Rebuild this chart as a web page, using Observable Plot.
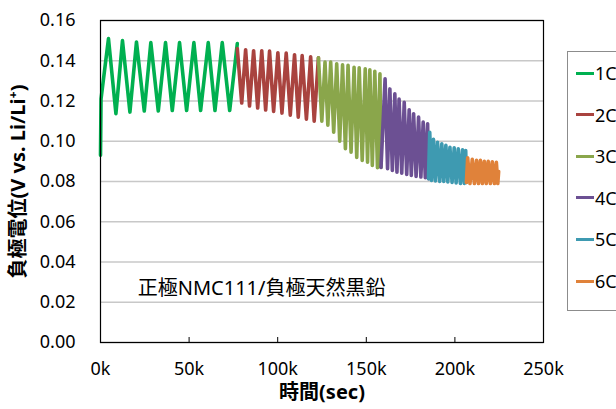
<!DOCTYPE html>
<html><head><meta charset="utf-8">
<script src="https://cdn.jsdelivr.net/npm/d3@7"></script>
<script src="https://cdn.jsdelivr.net/npm/@observablehq/plot@0.6"></script>
<style>
body{margin:0;background:#fff;overflow:hidden;}
#wrap{position:relative;width:616px;height:409px;font-family:"Noto Sans","Noto Sans CJK JP",sans-serif;}
#legend{position:absolute;left:567px;top:51px;width:70px;height:258px;border:1px solid #8c8c8c;background:#fff;}
.item{position:absolute;left:0;height:22px;display:flex;align-items:center;}
.sw{width:18px;height:3px;margin-left:8px;}
.lab{font-size:18px;color:#000;margin-left:1px;line-height:22px;}
</style></head><body><div id="wrap"></div>
<script>
const rates = ["1C","2C","3C","4C","5C","6C"];
const rateColors = ["#00b050","#a9433f","#8aa64b","#6c5093","#3e9ab1","#e0823a"];

const t1C = [0, 300, 4500, 8700, 12400, 16600, 20300, 24700, 28400, 32600, 36700, 40500, 44600, 48600, 52700, 56500, 60800, 64600, 68700, 72900, 77200];
const v1C = [0.093, 0.121, 0.151, 0.1137, 0.150, 0.1145, 0.1493, 0.115, 0.149, 0.115, 0.149, 0.1153, 0.149, 0.1153, 0.149, 0.1153, 0.149, 0.1153, 0.149, 0.1153, 0.1485];

const t2C = [77200, 79700, 81900, 84100, 86400, 88700, 91000, 93200, 95400, 97700, 100100, 102400, 104800, 107100, 109500, 111600, 113800, 116200, 118600, 120600, 123000];
const v2C = [0.146, 0.119, 0.1455, 0.1175, 0.145, 0.1165, 0.145, 0.1155, 0.1448, 0.1148, 0.144, 0.114, 0.1438, 0.113, 0.143, 0.112, 0.1426, 0.111, 0.142, 0.110, 0.1415];

const t3C = [123000, 124900, 126700, 128300, 129900, 131600, 133300, 135000, 136600, 138200, 139700, 141400, 143100, 144600, 146000, 147700, 149400, 150700, 152000, 153400, 154800, 156300, 157700, 158300];
const v3C = [0.1415, 0.110, 0.1393, 0.108, 0.1393, 0.1045, 0.1385, 0.100, 0.138, 0.0963, 0.1377, 0.0946, 0.1368, 0.092, 0.1365, 0.0905, 0.136, 0.0896, 0.1355, 0.088, 0.1348, 0.0868, 0.1335, 0.087];

const t4C = [158300, 160600, 162000, 163300, 164700, 166100, 167300, 168500, 170000, 171400, 172800, 174200, 175400, 176700, 178100, 179500, 180800, 182100, 183300, 184600, 185100];
const v4C = [0.087, 0.131, 0.0863, 0.126, 0.0855, 0.1236, 0.0846, 0.121, 0.0841, 0.1194, 0.0835, 0.1156, 0.083, 0.1137, 0.0825, 0.112, 0.0822, 0.1095, 0.0819, 0.1087, 0.0814];

const t5C = [185100, 185800, 186800, 187900, 189000, 190200, 191400, 192600, 193700, 194900, 196000, 197200, 198400, 199600, 200700, 201900, 203100, 204300, 205300, 206100, 206500];
const v5C = [0.0814, 0.1045, 0.0805, 0.101, 0.0803, 0.0995, 0.080, 0.0987, 0.080, 0.098, 0.0798, 0.097, 0.0795, 0.0967, 0.0793, 0.0962, 0.079, 0.0957, 0.079, 0.0954, 0.0795];

const t6C = [206500, 207200, 208500, 209800, 211000, 212200, 213300, 214400, 215500, 216600, 217700, 218800, 220000, 221100, 222300, 223400, 224200, 224700];
const v6C = [0.0795, 0.0918, 0.079, 0.091, 0.079, 0.0905, 0.079, 0.0905, 0.079, 0.090, 0.079, 0.090, 0.079, 0.0898, 0.079, 0.0895, 0.079, 0.085];

const xTicks = [0, 50000, 100000, 150000, 200000, 250000];
const yTicks = [0, 0.02, 0.04, 0.06, 0.08, 0.10, 0.12, 0.14, 0.16];
const yTitle = "負極電位(V vs. Li/Li⁺)";
const xTitle = "時間(sec)";
const annotation = "正極NMC111/負極天然黒鉛";
const annX = 21000, annY = 0.027;

const seriesT = [t1C, t2C, t3C, t4C, t5C, t6C];
const seriesV = [v1C, v2C, v3C, v4C, v5C, v6C];
const rows = [];
seriesT.forEach((ts, i) => ts.forEach((t, j) => rows.push({rate: rates[i], t, v: seriesV[i][j]})));

const font = '"Noto Sans","Noto Sans CJK JP",sans-serif';
const chart = Plot.plot({
  width: 616, height: 409,
  marginLeft: 100, marginRight: 73, marginTop: 20, marginBottom: 67,
  style: {fontFamily: font, fontSize: "18px", color: "#000", background: "#fff", overflow: "visible"},
  x: {domain: [0, 250000]},
  y: {domain: [0, 0.16]},
  color: {domain: rates, range: rateColors},
  marks: [
    Plot.gridY(yTicks, {stroke: "#c8c8c8", strokeOpacity: 1, strokeWidth: 1.3}),
    Plot.line(rows, {x: "t", y: "v", z: "rate", stroke: "rate", strokeWidth: 3.6, strokeLinejoin: "round", strokeLinecap: "round"}),
    Plot.ruleX(xTicks.slice(1, -1), {stroke: "#000", insetTop: 317}),
    Plot.frame({stroke: "#000", strokeWidth: 1.2}),
    Plot.axisY(yTicks, {tickSize: 0, tickPadding: 25, tickFormat: d3.format(".2f"), label: null, fontSize: 18}),
    Plot.axisX(xTicks, {tickSize: 0, tickPadding: 20, tickFormat: d => d / 1000 + "k", label: null, fontSize: 18}),
    Plot.text([annotation], {x: annX, y: annY, textAnchor: "start", fontSize: 20, fill: "#000"}),
    Plot.text([yTitle], {frameAnchor: "left", dx: -82, rotate: -90, textAnchor: "middle", fontWeight: "bold", fontSize: 20, fill: "#000"}),
    Plot.text([xTitle], {frameAnchor: "bottom", dy: 56, textAnchor: "middle", fontWeight: "bold", fontSize: 20, fill: "#000"})
  ]
});
const wrap = document.getElementById("wrap");
wrap.appendChild(chart);

const legend = document.createElement("div");
legend.id = "legend";
rates.forEach((r, i) => {
  const item = document.createElement("div");
  item.className = "item";
  item.style.top = (10 + i * 41.6) + "px";
  const sw = document.createElement("div");
  sw.className = "sw";
  sw.style.background = rateColors[i];
  const lab = document.createElement("span");
  lab.className = "lab";
  lab.textContent = r;
  item.appendChild(sw); item.appendChild(lab);
  legend.appendChild(item);
});
wrap.appendChild(legend);
</script></body></html>
